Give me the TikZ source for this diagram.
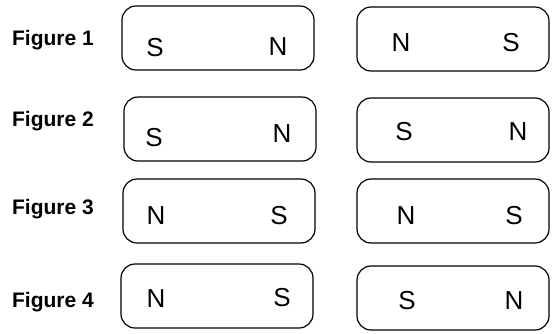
\documentclass[tikz,border=0pt]{standalone}
\usepackage{fontspec}
\setmainfont{Liberation Sans}
\begin{document}
\begin{tikzpicture}[x=1pt,y=-1pt,
  magbox/.style={draw=black, line width=1.2pt, rounded corners=14pt, minimum width=192pt, minimum height=64pt, inner sep=0pt},
  pole/.style={font=\fontsize{26}{26}\selectfont, text height=18.6pt, text depth=0pt, inner sep=0pt},
  figlabel/.style={font=\fontsize{21}{21}\selectfont\bfseries, text height=15pt, text depth=0pt, inner sep=0pt}]
\useasboundingbox[fill=white] (0,0) rectangle (554,333);
% row 1
\node[figlabel] (f1) at (53,38) {Figure 1};
\node[magbox] (b1l) at (218,38) {};
\node[magbox] (b1r) at (453,39) {};
\node[pole] (p1a) at (155,47) {S};
\node[pole] (p1b) at (278,46) {N};
\node[pole] (p1c) at (401,42) {N};
\node[pole] (p1d) at (511,42) {S};
% row 2
\node[figlabel] (f2) at (53,119) {Figure 2};
\node[magbox] (b2l) at (220,129) {};
\node[magbox] (b2r) at (453,130) {};
\node[pole] (p2a) at (154,137) {S};
\node[pole] (p2b) at (282,133) {N};
\node[pole] (p2c) at (404,131) {S};
\node[pole] (p2d) at (518,131) {N};
% row 3
\node[figlabel] (f3) at (53,207) {Figure 3};
\node[magbox] (b3l) at (219,211) {};
\node[magbox] (b3r) at (453,211) {};
\node[pole] (p3a) at (156,215) {N};
\node[pole] (p3b) at (279,215) {S};
\node[pole] (p3c) at (406,215) {N};
\node[pole] (p3d) at (514,215) {S};
% row 4
\node[figlabel] (f4) at (53,300) {Figure 4};
\node[magbox] (b4l) at (217,296) {};
\node[magbox] (b4r) at (453,298) {};
\node[pole] (p4a) at (156,298) {N};
\node[pole] (p4b) at (282,297) {S};
\node[pole] (p4c) at (407,300) {S};
\node[pole] (p4d) at (514,300) {N};
\end{tikzpicture}
\end{document}
